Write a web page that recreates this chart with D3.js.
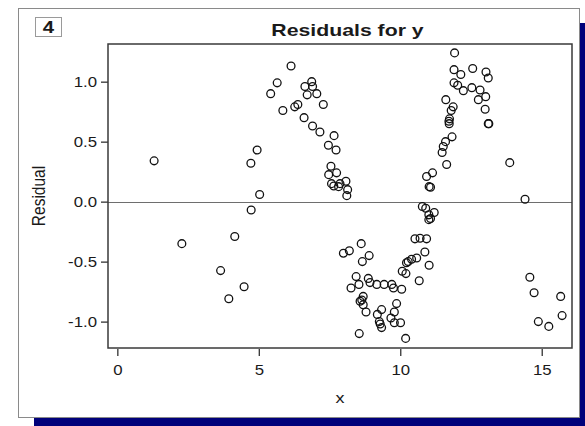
<!DOCTYPE html>
<html>
<head>
<meta charset="utf-8">
<script src="https://cdn.jsdelivr.net/npm/d3@7"></script>
<style>
  html, body { margin: 0; padding: 0; background: #ffffff; }
  svg { display: block; }
  text { font-family: "Liberation Sans", Arial, sans-serif; fill: #1a1a1a; }
</style>
</head>
<body>
<svg id="chart" width="585" height="426"></svg>
<script>
// Residuals from the fitted model, one entry per observation
const xValues = [
  1.30, 2.28, 3.65, 3.94, 4.15, 4.48, 4.73, 4.72, 4.94, 5.03,
  5.42, 5.65, 5.85, 6.14, 6.27, 6.38, 6.60, 6.63, 6.71, 6.87,
  6.90, 6.90, 7.05, 7.16, 7.28, 7.46, 7.66, 7.73, 7.55, 7.47,
  7.75, 7.57, 7.65, 7.87, 7.82, 8.08, 8.14, 8.11, 7.99, 8.20,
  8.62, 8.90, 8.66, 8.44, 8.87, 8.26, 8.54, 8.93, 9.17, 9.43,
  9.70, 9.76, 10.05, 8.69, 8.64, 8.58, 8.69, 8.79, 9.34, 9.19,
  9.87, 9.79, 9.67, 9.26, 9.29, 9.34, 9.79, 10.01, 8.55, 10.19,
  10.07, 10.20, 10.22, 10.28, 10.40, 10.58, 10.67, 10.52, 10.70, 10.93,
  10.87, 11.02, 10.78, 10.90, 11.20, 11.01, 11.07, 11.01, 11.02, 11.07,
  10.93, 11.14, 11.64, 11.48, 11.52, 11.60, 11.83, 11.73, 11.72, 11.74,
  11.80, 11.87, 11.61, 11.90, 12.03, 12.23, 12.53, 11.90, 12.14, 11.92,
  12.56, 13.03, 13.11, 12.82, 12.76, 13.02, 13.00, 13.11, 13.13, 13.87,
  14.41, 14.58, 14.73, 15.67, 15.72, 14.88, 15.25
];
const residuals = [
  0.34, -0.35, -0.575, -0.81, -0.29, -0.71, -0.07, 0.32, 0.43, 0.06,
  0.90, 0.99, 0.76, 1.13, 0.79, 0.81, 0.70, 0.96, 0.89, 1.00,
  0.96, 0.63, 0.90, 0.58, 0.81, 0.47, 0.55, 0.43, 0.295, 0.225,
  0.24, 0.15, 0.13, 0.15, 0.125, 0.17, 0.10, 0.05, -0.43, -0.41,
  -0.35, -0.45, -0.50, -0.625, -0.64, -0.72, -0.69, -0.675, -0.69, -0.69,
  -0.69, -0.72, -0.73, -0.79, -0.82, -0.83, -0.86, -0.92, -0.90, -0.94,
  -0.85, -0.92, -0.97, -1.00, -1.02, -1.05, -1.01, -1.01, -1.10, -1.14,
  -0.58, -0.60, -0.51, -0.50, -0.48, -0.47, -0.66, -0.31, -0.305, -0.31,
  -0.42, -0.53, -0.04, -0.055, -0.09, -0.11, -0.14, -0.15, 0.125, 0.12,
  0.21, 0.24, 0.31, 0.41, 0.46, 0.50, 0.54, 0.65, 0.67, 0.69,
  0.76, 0.79, 0.85, 0.99, 0.97, 0.925, 0.95, 1.10, 1.06, 1.24,
  1.11, 1.08, 1.03, 0.93, 0.85, 0.875, 0.77, 0.65, 0.65, 0.325,
  0.02, -0.63, -0.76, -0.79, -0.95, -1.00, -1.04
];
const xTicks = [0, 5, 10, 15];
const yTicks = [-1.0, -0.5, 0.0, 0.5, 1.0];
const xDomain = [-0.33, 16.07];
const yDomain = [-1.22, 1.314];
const titleText = "Residuals for y";
const panelNumber = "4";

const svg = d3.select("#chart");
const textWiden = 1.2;   // horizontal stretch applied to the axis lettering

// Frame: navy drop shadow behind a white panel
const panel = { x: 18.5, y: 8.5, w: 561, h: 409 };
svg.append("rect")
  .attr("x", panel.x + 15.5).attr("y", panel.y + 14.5)
  .attr("width", panel.w).attr("height", panel.h)
  .attr("fill", "#00007a");
svg.append("rect")
  .attr("x", panel.x).attr("y", panel.y)
  .attr("width", panel.w).attr("height", panel.h)
  .attr("fill", "#ffffff").attr("stroke", "#8a8a8a").attr("stroke-width", 1);

// Panel number box
svg.append("rect")
  .attr("x", 35.5).attr("y", 17.5).attr("width", 26).attr("height", 19)
  .attr("fill", "#ffffff").attr("stroke", "#9a9a9a").attr("stroke-width", 1);
svg.append("text")
  .attr("transform", `translate(48.5,33) scale(${textWiden},1)`)
  .attr("text-anchor", "middle")
  .attr("font-size", 17).attr("font-weight", "bold")
  .attr("fill", "#000")
  .text(panelNumber);

// Plot area
const plot = { left: 108, top: 44, right: 572, bottom: 348 };
const x = d3.scaleLinear().domain(xDomain).range([plot.left, plot.right]);
const y = d3.scaleLinear().domain(yDomain).range([plot.bottom, plot.top]);

// Title
svg.append("text")
  .attr("transform", `translate(347.5,36) scale(1.25,1)`)
  .attr("text-anchor", "middle")
  .attr("font-size", 17).attr("font-weight", "bold")
  .attr("fill", "#000")
  .text(titleText);

// Zero reference line
svg.append("line")
  .attr("x1", plot.left).attr("x2", plot.right)
  .attr("y1", Math.round(y(0)) + 0.5).attr("y2", Math.round(y(0)) + 0.5)
  .attr("stroke", "#6e6e6e").attr("stroke-width", 1);

// Axes (hyphen-minus labels, one decimal on the residual axis)
const fmtY = d => d3.format(".1f")(d).replace("\u2212", "-");
const yAxis = d3.axisLeft(y).tickValues(yTicks).tickFormat(fmtY)
  .tickSize(7).tickPadding(4);
const yg = svg.append("g").attr("transform", `translate(${plot.left},0)`).call(yAxis);
const xAxis = d3.axisBottom(x).tickValues(xTicks).tickFormat(d3.format("d"))
  .tickSize(7).tickPadding(9);
const xg = svg.append("g").attr("transform", `translate(0,${plot.bottom + 1})`).call(xAxis);
[yg, xg].forEach(g => {
  g.select(".domain").remove();
  g.selectAll(".tick line").attr("stroke", "#333").attr("stroke-width", 1.3);
  g.selectAll(".tick text").attr("font-size", 14).attr("fill", "#1a1a1a")
    .attr("font-family", "'Liberation Sans', Arial, sans-serif");
});
yg.selectAll(".tick text")
  .attr("dy", "0.35em")
  .attr("x", 0)
  .attr("transform", `translate(-11,0) scale(${textWiden},1)`);
xg.selectAll(".tick text")
  .attr("transform", `scale(${textWiden},1)`);

// Plot border
svg.append("rect")
  .attr("x", plot.left).attr("y", plot.top)
  .attr("width", plot.right - plot.left).attr("height", plot.bottom - plot.top)
  .attr("fill", "none").attr("stroke", "#3a3a3a").attr("stroke-width", 1.5);

// Axis titles
svg.append("text")
  .attr("transform", `translate(45,${(plot.top + plot.bottom) / 2}) rotate(-90) scale(1,${textWiden})`)
  .attr("text-anchor", "middle")
  .attr("font-size", 15.5)
  .text("Residual");
svg.append("text")
  .attr("transform", `translate(${(plot.left + plot.right) / 2},403) scale(${textWiden},1)`)
  .attr("text-anchor", "middle")
  .attr("font-size", 15)
  .text("x");

// Residual points as open circles
const points = xValues.map((v, i) => ({ x: v, r: residuals[i] }));
svg.append("g").selectAll("circle")
  .data(points)
  .join("circle")
  .attr("cx", d => x(d.x))
  .attr("cy", d => y(d.r))
  .attr("r", 3.9)
  .attr("fill", "none")
  .attr("stroke", "#111")
  .attr("stroke-width", 1.3);
</script>
</body>
</html>
